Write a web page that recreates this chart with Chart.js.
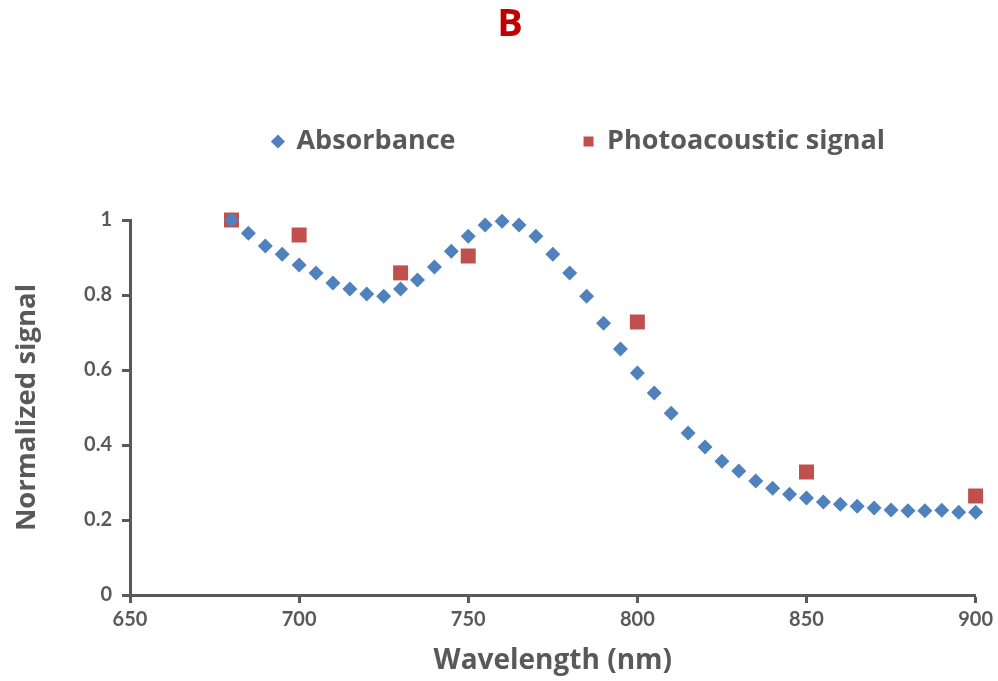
<!DOCTYPE html>
<html>
<head>
<meta charset="utf-8">
<script src="https://cdn.jsdelivr.net/npm/chart.js@4"></script>
<style>
  html, body { margin: 0; padding: 0; background: #fff; }
  #wrap { width: 998px; height: 681px; }
</style>
</head>
<body>
<div id="wrap"><canvas id="chart" width="998" height="681"></canvas></div>
<script>
// absorbance spectrum, every 5 nm
const absWavelengths = [680, 685, 690, 695, 700, 705, 710, 715, 720, 725, 730, 735, 740, 745, 750, 755, 760, 765, 770, 775, 780, 785, 790, 795, 800, 805, 810, 815, 820, 825, 830, 835, 840, 845, 850, 855, 860, 865, 870, 875, 880, 885, 890, 895, 900];
const absValues = [1.0, 0.965, 0.931, 0.909, 0.88, 0.859, 0.832, 0.816, 0.803, 0.797, 0.816, 0.84, 0.875, 0.917, 0.957, 0.987, 0.997, 0.987, 0.957, 0.909, 0.859, 0.797, 0.725, 0.656, 0.592, 0.539, 0.485, 0.432, 0.395, 0.357, 0.331, 0.304, 0.285, 0.269, 0.259, 0.248, 0.242, 0.237, 0.232, 0.227, 0.225, 0.225, 0.226, 0.221, 0.221];

// photoacoustic measurements
const paWavelengths = [680, 700, 730, 750, 800, 850, 900];
const paValues = [1.0, 0.96, 0.859, 0.904, 0.728, 0.328, 0.264];

const yTicks = [0, 0.2, 0.4, 0.6, 0.8, 1];

const axisColor = '#595959';
const tickFont = "Lato, sans-serif";
const labelFont = "'Open Sans', sans-serif";

const toPoints = (xs, ys) => xs.map((x, i) => ({ x: x, y: ys[i] }));

// nudge title and legend to where the original sits
const placeBoxes = {
    id: 'placeBoxes',
    afterLayout(chart) {
        const lg = chart.legend;
        lg.left += 91; lg.right += 91;
        lg.top -= 55; lg.bottom -= 55;
        const tb = chart.titleBlock;
        tb.left += 22; tb.right += 22;
    }
};

new Chart(document.getElementById('chart').getContext('2d'), {
    type: 'scatter',
    data: {
        datasets: [{
            label: 'Absorbance',
            data: toPoints(absWavelengths, absValues),
            pointStyle: 'rectRot',
            pointRadius: 7.5,
            pointHoverRadius: 7.5,
            backgroundColor: '#4F81BD',
            borderColor: '#4F81BD',
            borderWidth: 0,
            clip: false
        }, {
            label: 'Photoacoustic signal',
            data: toPoints(paWavelengths, paValues),
            pointStyle: 'rect',
            pointRadius: 10.6,
            pointHoverRadius: 10.6,
            backgroundColor: '#C0504D',
            borderColor: '#C0504D',
            borderWidth: 0,
            clip: false
        }]
    },
    plugins: [placeBoxes],
    options: {
        responsive: false,
        animation: false,
        layout: { padding: { left: 0, right: 22, top: 0, bottom: 0 } },
        plugins: {
            title: {
                display: true,
                text: 'B',
                color: '#C00000',
                font: { family: labelFont, size: 38, weight: 'bold' },
                padding: { top: 2, bottom: 7.4 }
            },
            legend: {
                display: true,
                labels: {
                    usePointStyle: true,
                    boxWidth: 10,
                    boxHeight: 10,
                    padding: 128,
                    color: axisColor,
                    font: { family: labelFont, size: 27, weight: 'bold' }
                }
            },
            tooltip: { enabled: false }
        },
        scales: {
            x: {
                type: 'linear',
                min: 650,
                max: 900,
                afterFit: s => { s.height = 86; },
                ticks: {
                    stepSize: 50,
                    color: axisColor,
                    padding: 5,
                    font: { family: tickFont, size: 20, weight: 'bold' }
                },
                grid: { drawOnChartArea: false, tickLength: 8, tickWidth: 3, tickColor: axisColor },
                border: { color: axisColor, width: 3 },
                title: {
                    display: true,
                    text: 'Wavelength (nm)',
                    color: axisColor,
                    font: { family: labelFont, size: 28, weight: 'bold' },
                    padding: { top: 0, bottom: 3 }
                }
            },
            y: {
                min: 0,
                max: 1,
                afterFit: s => { s.width = 130; },
                afterBuildTicks: s => { s.ticks = yTicks.map(v => ({ value: v })); },
                ticks: {
                    color: axisColor,
                    padding: 10,
                    font: { family: tickFont, size: 20, weight: 'bold' },
                    callback: v => String(v)
                },
                grid: { drawOnChartArea: false, tickLength: 8, tickWidth: 3, tickColor: axisColor },
                border: { color: axisColor, width: 3 },
                title: {
                    display: true,
                    text: 'Normalized signal',
                    color: axisColor,
                    font: { family: labelFont, size: 27.5, weight: 'bold' },
                    padding: { top: 11, bottom: 0 }
                }
            }
        }
    }
});
</script>
</body>
</html>
